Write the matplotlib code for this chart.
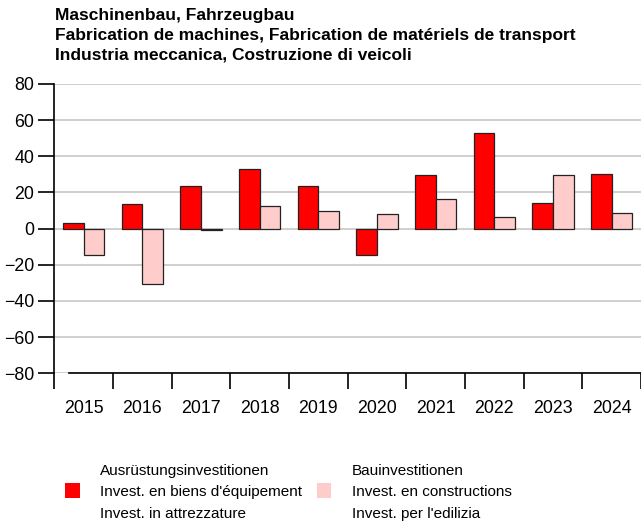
import matplotlib
matplotlib.use("Agg")
import matplotlib.pyplot as plt
import numpy as np
from matplotlib.patches import Rectangle

plt.rcParams['font.family'] = ['Liberation Sans', 'DejaVu Sans']

years = ["2015", "2016", "2017", "2018", "2019", "2020", "2021", "2022", "2023", "2024"]
equipment = [3.3, 13.9, 23.6, 32.9, 23.8, -14.4, 29.7, 53.0, 14.0, 30.5]
construction = [-14.3, -30.5, -0.5, 12.5, 9.8, 8.3, 16.4, 6.4, 29.7, 8.9]
title_lines = ["Maschinenbau, Fahrzeugbau",
               "Fabrication de machines, Fabrication de matériels de transport",
               "Industria meccanica, Costruzione di veicoli"]
legend_equipment = ["Ausrüstungsinvestitionen", "Invest. en biens d'équipement", "Invest. in attrezzature"]
legend_construction = ["Bauinvestitionen", "Invest. en constructions", "Invest. per l'edilizia"]
yticks = [-80, -60, -40, -20, 0, 20, 40, 60, 80]

RED = "#ff0000"
PINK = "#ffcccc"

W, H = 641, 524
fig = plt.figure(figsize=(W / 100, H / 100), dpi=100)
ax = fig.add_axes([54.3 / W, 1 - 373.3 / H, (641 - 54.3) / W, (373.3 - 84) / H])

x = np.arange(len(years))
bw = 0.35
ax.bar(x - bw / 2, equipment, bw, color=RED, edgecolor="#222222", linewidth=0.9, zorder=3)
ax.bar(x + bw / 2, construction, bw, color=PINK, edgecolor="#222222", linewidth=0.9, zorder=3)

ax.set_xlim(-0.5, len(years) - 0.5)
ax.set_ylim(-80, 80)
ax.set_yticks(yticks)
ax.set_yticklabels([str(v).replace("-", "\u2212") for v in yticks], fontsize=12.8)
ax.yaxis.grid(True, color="#cccccc", linewidth=1.3, zorder=0)
ax.set_axisbelow(True)

ax.set_xticks(x)
ax.set_xticklabels(years, fontsize=12.8)
ax.tick_params(axis='x', which='major', length=0, pad=19)
ax.set_xticks(np.arange(-0.5, len(years), 1.0), minor=True)
ax.tick_params(axis='x', which='minor', length=11.5, width=1.2, color="black", direction="out")
ax.tick_params(axis='y', length=11.5, width=1.2, pad=3)

for s in ["top", "right"]:
    ax.spines[s].set_visible(False)
ax.spines["left"].set_linewidth(1.2)
ax.spines["bottom"].set_linewidth(1.2)
ax.spines["bottom"].set_bounds(-0.25, len(years) - 0.5)

for i, line in enumerate(title_lines):
    fig.text(54.7 / W, 1 - (15.5 + 20 * i) / H, line, fontsize=12.5, fontweight="bold",
             ha="left", va="center")

# legend
def legend_block(x_sq, x_txt, color, lines):
    fig.patches.append(Rectangle((x_sq / W, 1 - 498.3 / H), 14.5 / W, 15 / H,
                                 transform=fig.transFigure, facecolor=color, edgecolor="none"))
    for j, t in enumerate(lines):
        fig.text(x_txt / W, 1 - (471 + 21.3 * j) / H, t, fontsize=11, ha="left", va="center")

legend_block(65, 100, RED, legend_equipment)
legend_block(316.7, 351.7, PINK, legend_construction)

fig.savefig("out.png", dpi=100)
